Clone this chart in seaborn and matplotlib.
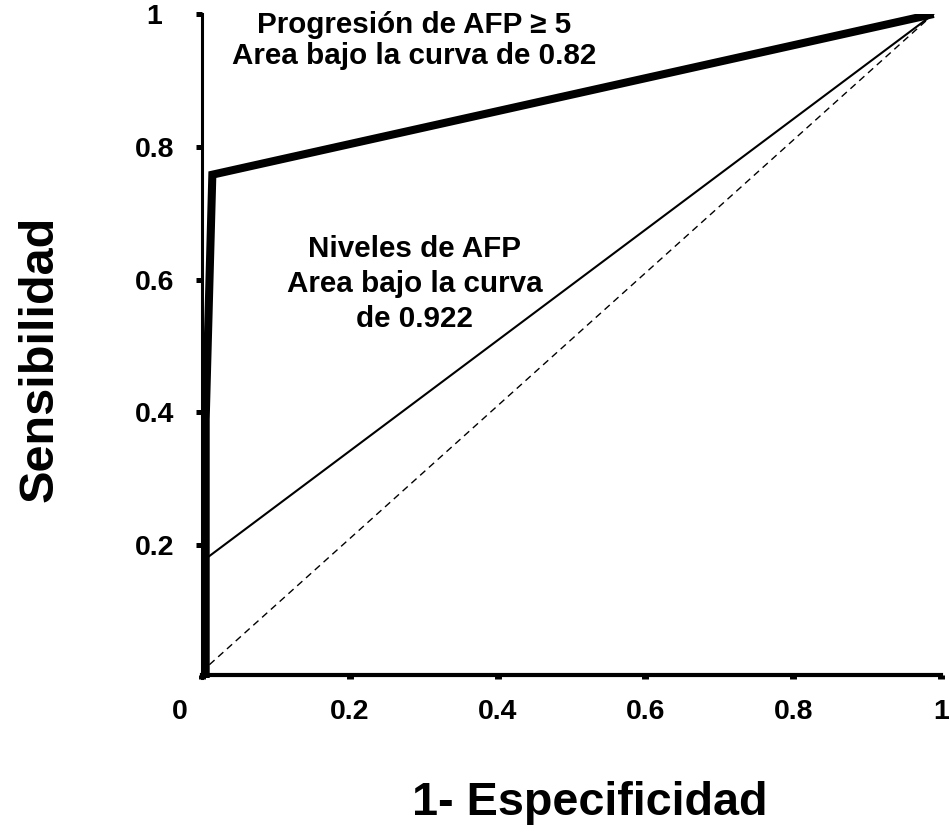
import matplotlib
matplotlib.use("Agg")
import matplotlib.pyplot as plt
import seaborn as sns
import pandas as pd
from matplotlib.transforms import ScaledTranslation

# ---- data ----
prog_x = [0.005, 0.005, 0.014, 0.99]      # Progresión de AFP >= 5 (1 - especificidad)
prog_y = [0.0, 0.39, 0.758, 1.0]          # sensibilidad
niv_x = [0.008, 0.008, 0.99]              # Niveles de AFP
niv_y = [0.0, 0.182, 1.0]
ref_x = [0.01, 0.99]                      # reference diagonal
ref_y = [0.02, 1.0]

x_ticks = [0, 0.2, 0.4, 0.6, 0.8, 1]
x_tick_labels = ["0", "0.2", "0.4", "0.6", "0.8", "1"]
y_ticks = [0.2, 0.4, 0.6, 0.8, 1]
y_tick_labels = ["0.2", "0.4", "0.6", "0.8", "1"]

label_prog = ["Progresión de AFP ≥ 5", "Area bajo la curva de 0.82"]
label_niv = ["Niveles de AFP", "Area bajo la curva", "de 0.922"]
x_label = "1- Especificidad"
y_label = "Sensibilidad"

sns.set_theme(style="ticks")
plt.rcParams["font.family"] = ["Liberation Sans", "DejaVu Sans"]
plt.rcParams["font.weight"] = "bold"

W, H = 950, 834
fig = plt.figure(figsize=(W / 100, H / 100), dpi=100)
ax = fig.add_axes([202 / W, 1 - 678 / H, (941 - 202) / W, (678 - 14) / H])

ref_df = pd.DataFrame({"x": ref_x, "y": ref_y})
niv_df = pd.DataFrame({"x": niv_x, "y": niv_y})
prog_df = pd.DataFrame({"x": prog_x, "y": prog_y})

sns.lineplot(data=ref_df, x="x", y="y", ax=ax, sort=False, estimator=None,
             color="black", lw=1.0, linestyle=(0, (5, 3.5)))
sns.lineplot(data=niv_df, x="x", y="y", ax=ax, sort=False, estimator=None,
             color="black", lw=1.5)
sns.lineplot(data=prog_df, x="x", y="y", ax=ax, sort=False, estimator=None,
             color="black", lw=5.8, solid_joinstyle="miter", solid_capstyle="butt")

ax.set_xlim(0, 1)
ax.set_ylim(0, 1)
ax.set_xlabel("")
ax.set_ylabel("")

for s in ["top", "right"]:
    ax.spines[s].set_visible(False)
ax.spines["left"].set_linewidth(2.2)
ax.spines["bottom"].set_linewidth(3.0)
ax.spines["left"].set_color("black")
ax.spines["bottom"].set_color("black")
ax.spines["bottom"].set_position(("data", 0.005))

ax.set_xticks(x_ticks)
ax.set_xticklabels(x_tick_labels)
ax.set_yticks(y_ticks)
ax.set_yticklabels(y_tick_labels)
ax.tick_params(axis="x", direction="out", length=3.2, width=5.0, pad=14.5,
               labelsize=20.5, color="black", labelcolor="black")
ax.tick_params(axis="y", direction="out", length=4.3, width=3.6, pad=30,
               labelsize=20.5, color="black", labelcolor="black")
for lab in ax.get_yticklabels():
    lab.set_ha("center")
    lab.set_fontweight("bold")
for lab in ax.get_xticklabels():
    lab.set_fontweight("bold")
first = ax.get_xticklabels()[0]
first.set_transform(first.get_transform() + ScaledTranslation(-22 / 100, 0, fig.dpi_scale_trans))

ax.grid(False)

# annotations
for txt, yy in zip(label_prog, [0.971, 0.925]):
    ax.text(0.287, yy, txt, ha="center", va="baseline", fontsize=21.3,
            fontweight="bold", color="black")
for txt, yy in zip(label_niv, [0.634, 0.581, 0.529]):
    ax.text(0.288, yy, txt, ha="center", va="baseline", fontsize=21.3,
            fontweight="bold", color="black")

fig.text(590 / W, 1 - 815 / H, x_label, ha="center", va="baseline",
         fontsize=33.7, fontweight="bold", color="black")
fig.text(53 / W, 1 - 359 / H, y_label, ha="center", va="baseline",
         rotation=90, rotation_mode="anchor", fontsize=35, fontweight="bold",
         color="black")

fig.savefig("out.png", dpi=100, facecolor="white")
